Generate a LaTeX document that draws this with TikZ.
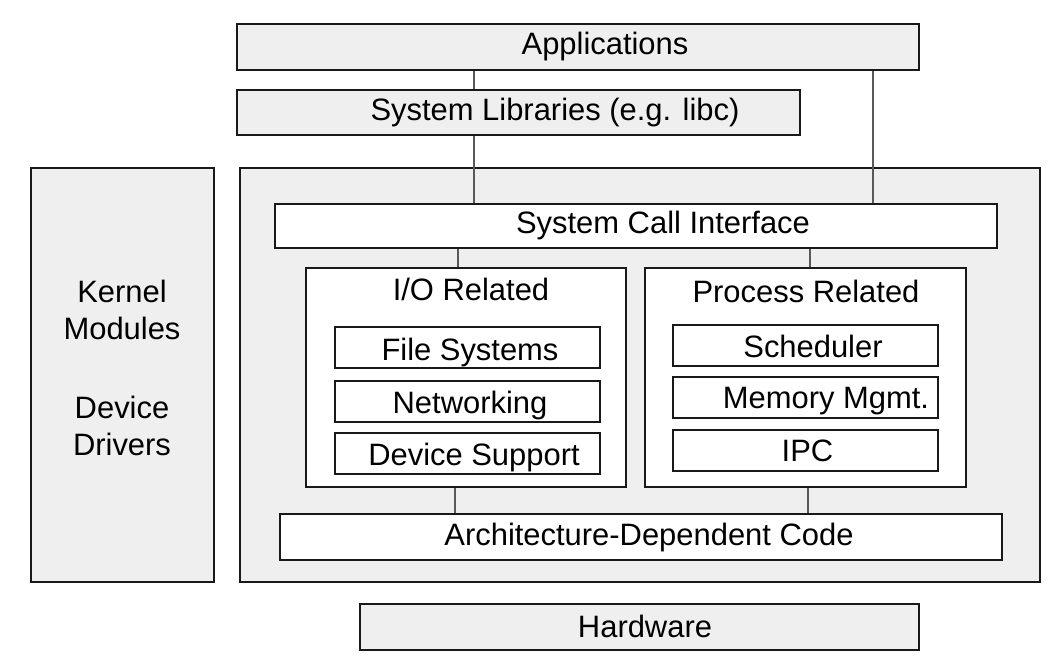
\documentclass[tikz,border=0pt]{standalone}
\usepackage{fontspec}
\setmainfont{Liberation Sans}
\definecolor{boxgray}{HTML}{EFEFEF}
\begin{document}
\begin{tikzpicture}[x=0.02cm,y=-0.02cm,
    box/.style={draw=black!90,line width=1.5pt,rectangle,inner sep=0pt},
    graybox/.style={box,fill=boxgray},
    whitebox/.style={box,fill=white},
    txt/.style={font=\fontsize{17.6pt}{21pt}\selectfont,inner sep=0pt,anchor=base},
    link/.style={draw=black!65,line width=0.6pt}]
  \useasboundingbox (0,0) rectangle (1058,662);

  % user space
  \node[graybox,minimum width=13.64cm,minimum height=0.92cm] (apps) at (578,47) {};
  \node[graybox,minimum width=11.26cm,minimum height=0.9cm] (syslib) at (518.5,112.5) {};
  \node[txt] (apps-t) at (605,55) {Applications};
  \node[txt] (syslib-t) at (555,121) {System Libraries (e.g. libc)};

  % kernel
  \node[graybox,minimum width=3.66cm,minimum height=8.28cm] (modules) at (122.5,375) {};
  \node[txt,anchor=center,align=center] (modules-t) at (122,310) {Kernel\\Modules};
  \node[txt,anchor=center,align=center] (drivers-t) at (122,426) {Device\\Drivers};
  \node[graybox,minimum width=16cm,minimum height=8.28cm] (kernel) at (640,375) {};

  \node[whitebox,minimum width=14.44cm,minimum height=0.88cm] (sci) at (636,226) {};
  \node[txt] (sci-t) at (663,234) {System Call Interface};

  \node[whitebox,minimum width=6.4cm,minimum height=4.38cm] (io) at (466,377.5) {};
  \node[txt] (io-t) at (471,300) {I/O Related};
  \node[whitebox,minimum width=5.3cm,minimum height=0.82cm] (fs) at (467.5,347.5) {};
  \node[whitebox,minimum width=5.3cm,minimum height=0.82cm] (net) at (467.5,401.5) {};
  \node[whitebox,minimum width=5.3cm,minimum height=0.82cm] (dev) at (467.5,453.5) {};
  \node[txt] (fs-t) at (470,360) {File Systems};
  \node[txt] (net-t) at (470,413) {Networking};
  \node[txt] (dev-t) at (474,465) {Device Support};

  \node[whitebox,minimum width=6.42cm,minimum height=4.38cm] (proc) at (805.5,377.5) {};
  \node[txt] (proc-t) at (806,302) {Process Related};
  \node[whitebox,minimum width=5.3cm,minimum height=0.82cm] (sched) at (805.5,345.5) {};
  \node[whitebox,minimum width=5.3cm,minimum height=0.82cm] (mem) at (805.5,397.5) {};
  \node[whitebox,minimum width=5.3cm,minimum height=0.82cm] (ipc) at (805.5,450.5) {};
  \node[txt] (sched-t) at (813,357) {Scheduler};
  \node[txt] (mem-t) at (826,408) {Memory Mgmt.};
  \node[txt] (ipc-t) at (807.5,461) {IPC};

  \node[whitebox,minimum width=14.44cm,minimum height=0.92cm] (arch) at (641,537) {};
  \node[txt] (arch-t) at (649,545) {Architecture-Dependent Code};

  % hardware
  \node[graybox,minimum width=11.18cm,minimum height=0.92cm] (hw) at (639.5,627) {};
  \node[txt] (hw-t) at (645,637) {Hardware};

  % connections
  \draw[link] (apps.south -| 474,0) -- (syslib.north -| 474,0);
  \draw[link] (syslib.south -| 474,0) -- (sci.north -| 474,0);
  \draw[link] (apps.south -| 873,0) -- (sci.north -| 873,0);
  \draw[link] (sci.south -| 458,0) -- (io.north -| 458,0);
  \draw[link] (sci.south -| 810,0) -- (proc.north -| 810,0);
  \draw[link] (io.south -| 455,0) -- (arch.north -| 455,0);
  \draw[link] (proc.south -| 808,0) -- (arch.north -| 808,0);
\end{tikzpicture}
\end{document}
